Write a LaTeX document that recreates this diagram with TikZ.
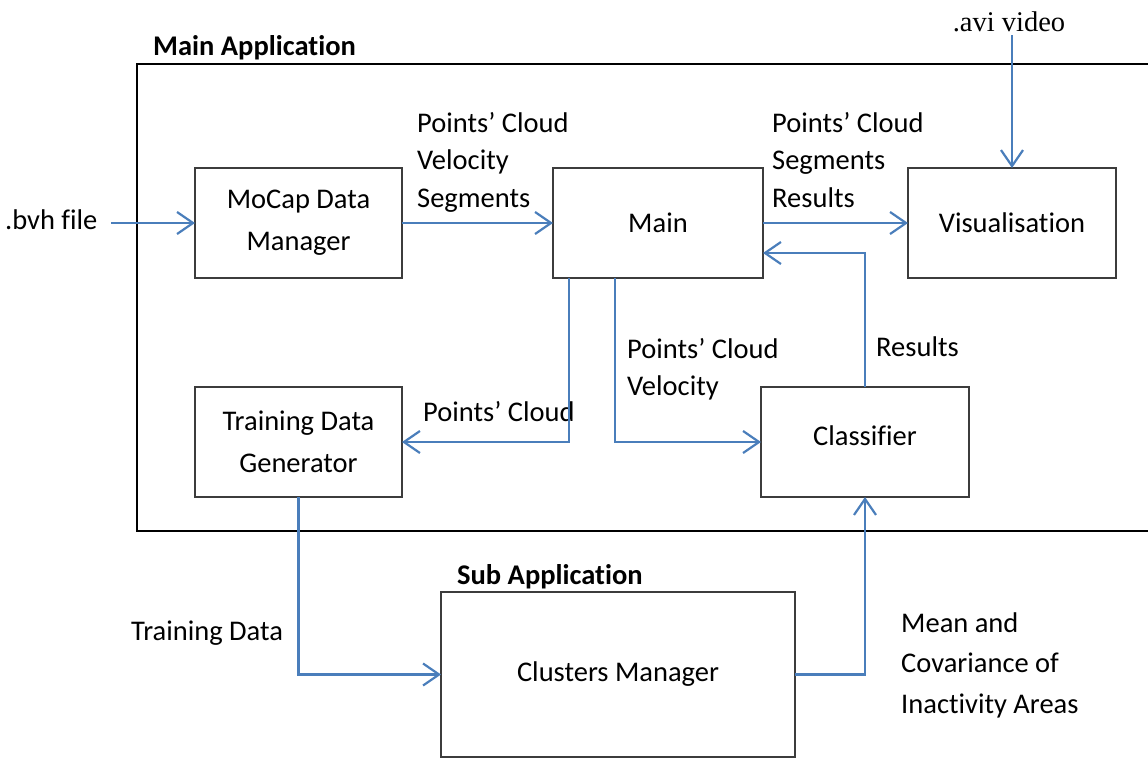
\documentclass[tikz,border=0pt]{standalone}
\usepackage{fontspec}
\setmainfont{Carlito}[Ligatures=NoCommon]
\newfontfamily\serifface{Liberation Serif}
\usetikzlibrary{arrows.meta}
\definecolor{flow}{HTML}{4A7EBB}
\definecolor{edge}{HTML}{3C3C3C}
\begin{document}
\begin{tikzpicture}[x=1pt,y=-1pt,
  block/.style={draw=edge, line width=1.6pt, inner sep=0pt, outer sep=0pt,
    align=center, font=\fontsize{28.5}{42}\selectfont},
  label/.style={inner sep=0pt, align=left, anchor=north west,
    font=\fontsize{28.5}{37.5}\selectfont},
  heading/.style={inner sep=0pt, anchor=base west,
    font=\fontsize{28.5}{34}\selectfont\bfseries},
  link/.style={draw=flow, line width=2.2pt,
    -{Straight Barb[length=16pt,width=22pt]}}
]
\useasboundingbox (0,0) rectangle (1148,758);

% enclosing frame of the main application
\node[draw=black, line width=2pt, inner sep=0pt, outer sep=0pt,
  minimum width=1040pt, minimum height=467pt, anchor=north west] (app) at (137,64) {};
\node[heading] (apptitle) at (153,55) {Main Application};
\node[heading] (subtitle) at (457,584) {Sub Application};

% modules
\node[block, minimum width=207pt, minimum height=110pt] (mocap) at (298.5,223) {MoCap Data\\Manager};
\node[block, minimum width=210pt, minimum height=110pt] (main) at (658,223) {Main};
\node[block, minimum width=208pt, minimum height=110pt] (vis) at (1012,223) {Visualisation};
\node[block, minimum width=207pt, minimum height=110pt] (train) at (298.5,442) {Training Data\\Generator};
\node[block, minimum width=208pt, minimum height=110pt, text depth=12pt] (cls) at (865,442) {Classifier};
\node[block, minimum width=354pt, minimum height=165pt] (clu) at (618,674.5) {Clusters Manager};

% external inputs
\node[inner sep=0pt, anchor=base west, font=\fontsize{28.5}{34}\selectfont] (bvh) at (5,229) {.bvh file};
\node[inner sep=0pt, anchor=base, font=\fontsize{28.5}{34}\selectfont\serifface] (avi) at (1009,31) {.avi video};
\coordinate (bvhout) at (111,223);
\coordinate (avitail) at (1012,35);

% data labels
\node[label] (l1) at (417,112) {Points’ Cloud\\Velocity\\Segments};
\node[label] (l2) at (772,112) {Points’ Cloud\\Segments\\Results};
\node[label, font=\fontsize{28.5}{37}\selectfont] (l3) at (627,338) {Points’ Cloud\\Velocity};
\node[label] (l4) at (876,337) {Results};
\node[label] (l5) at (423,401) {Points’ Cloud};
\node[label] (l6) at (131,621) {Training Data};
\node[label, font=\fontsize{28.5}{40.5}\selectfont] (l7) at (901,612) {Mean and\\Covariance of\\Inactivity Areas};

% data flow
\draw[link] (bvhout) -- (mocap.west);
\draw[link] (mocap.east) -- (main.west);
\draw[link] (main.east) -- (vis.west);
\draw[link] (avitail) -- (vis.north);
\draw[link] (cls.north) |- ([yshift=-30pt]main.east);
\draw[link] ([xshift=-89pt]main.south) |- (train.east);
\draw[link] ([xshift=-43pt]main.south) |- (cls.west);
\draw[link] (train.south) |- (clu.west);
\draw[link] (clu.east) -| (cls.south);
\end{tikzpicture}
\end{document}
